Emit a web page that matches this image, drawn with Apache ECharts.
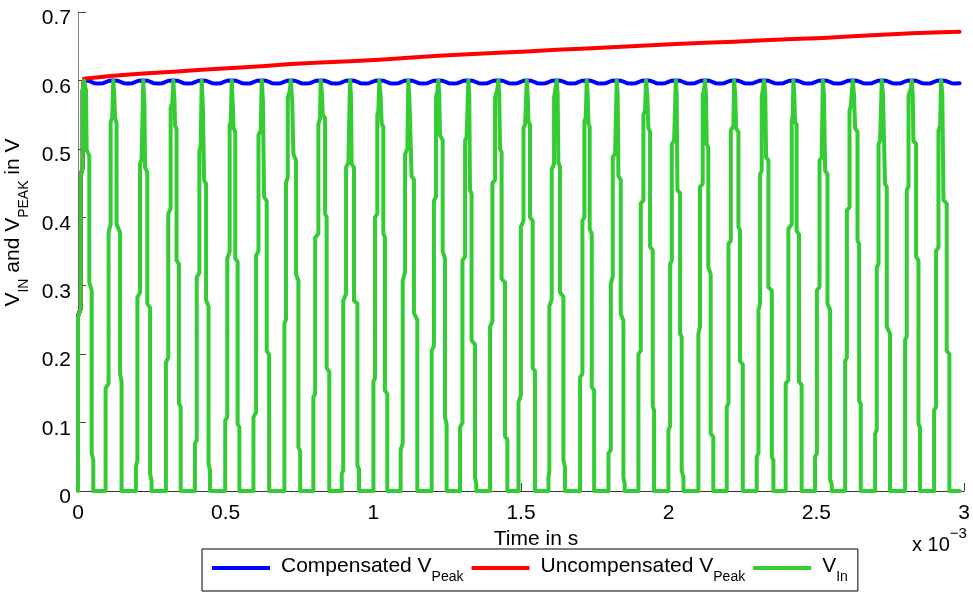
<!DOCTYPE html>
<html>
<head>
<meta charset="utf-8">
<script src="https://cdn.jsdelivr.net/npm/echarts@6/dist/echarts.min.js"></script>
<style>
  html, body { margin: 0; padding: 0; background: #ffffff; }
  #chart { width: 973px; height: 595px; }
</style>
</head>
<body>
<div id="chart"></div>
<script>
// Time is kept in milliseconds; the axis shows the "x 10^-3" multiplier.
const timeTickLabels = ['0', '0.5', '1', '1.5', '2', '2.5', '3'];
const voltTickLabels = ['0', '0.1', '0.2', '0.3', '0.4', '0.5', '0.6', '0.7'];

const seriesNames = ['Compensated', 'Uncompensated', 'Vin'];
const legendLabels = {
  Compensated: '{m|Compensated V}{s|Peak}',
  Uncompensated: '{m|Uncompensated V}{s|Peak}',
  Vin: '{m|V}{s|In}'
};

// Instants of the input pulse peaks (ms)
const vinPeakMs = [
  0.0203, 0.1195, 0.2211, 0.3227, 0.4189, 0.5205, 0.6221, 0.7203, 0.8219, 0.9211,
  1.0203, 1.1185, 1.2201, 1.3217, 1.4233, 1.5195, 1.6210, 1.7226, 1.8242, 1.9235,
  2.0241, 2.1232, 2.2215, 2.3231, 2.4223, 2.5218, 2.6234, 2.7216, 2.8232, 2.9225
];

// Edges of every V_In pulse: [offset from its peak in µs, volts]
const vinPulseEdges = [
  [[-20.3,0],[-20.3,0.254],[-11.2,0.266],[-11.2,0.461],[-4.4,0.473],[-4.4,0.585],[0,0.6],[6.8,0.585],[9,0.498],[18,0.490],[18,0.305],[26,0.293],[26,0.055],[31.5,0.045],[31.5,0]],
  [[-26,0],[-26,0.150],[-16,0.157],[-16,0.378],[-9,0.390],[-9,0.539],[-3.4,0.546],[0,0.6],[3,0.58],[5.8,0.546],[11,0.538],[11,0.390],[23,0.378],[23,0.171],[28,0.160],[28,0]],
  [[-25,0],[-25,0.035],[-20,0.045],[-20,0.283],[-11,0.290],[-11,0.478],[-5.8,0.485],[0,0.6],[4,0.56],[5.8,0.473],[13.5,0.466],[13.5,0.274],[23,0.268],[23,0.025],[28,0.015],[28,0]],
  [[-25,0],[-25,0.188],[-17,0.195],[-17,0.405],[-9,0.413],[-9,0.56],[-3.4,0.567],[0,0.6],[4,0.57],[5.8,0.534],[11,0.529],[11,0.337],[19,0.332],[19,0.128],[25,0.123],[25,0]],
  [[-23,0],[-23,0.069],[-17,0.074],[-17,0.312],[-8,0.319],[-8,0.497],[-3.4,0.505],[0,0.6],[4,0.56],[8,0.454],[14.7,0.449],[14.7,0.279],[23,0.270],[23,0.04],[28,0.03],[28,0]],
  [[-22,0],[-22,0.103],[-15,0.108],[-15,0.34],[-7,0.35],[-7,0.535],[-3,0.54],[0,0.6],[4,0.56],[6,0.53],[12,0.525],[12,0.34],[20,0.335],[20,0.098],[26,0.093],[26,0]],
  [[-28,0],[-28,0.108],[-19,0.115],[-19,0.344],[-11,0.351],[-11,0.52],[-3.4,0.527],[0,0.6],[4,0.57],[8,0.43],[17,0.424],[17,0.205],[25,0.199],[25,0]],
  [[-21.5,0],[-21.5,0.244],[-16,0.251],[-16,0.451],[-10,0.458],[-10,0.575],[-3,0.585],[0,0.6],[5,0.57],[9,0.493],[18,0.483],[18,0.317],[26,0.307],[26,0.064],[32,0.058],[32,0]],
  [[-25,0],[-25,0.137],[-19,0.142],[-19,0.370],[-8,0.376],[-8,0.536],[-2.3,0.545],[0,0.6],[4,0.58],[6.8,0.55],[14.7,0.545],[14.7,0.405],[20,0.40],[20,0.18],[29,0.174],[29,0]],
  [[-28,0],[-28,0.025],[-23,0.03],[-23,0.278],[-13.5,0.288],[-13.5,0.473],[-5.6,0.48],[0,0.6],[3,0.58],[5.6,0.478],[13.5,0.473],[13.5,0.278],[25,0.274],[25,0.037],[30.5,0.032],[30.5,0]],
  [[-20,0],[-20,0.16],[-14.7,0.165],[-14.7,0.40],[-6.8,0.405],[-6.8,0.55],[-3.4,0.555],[0,0.6],[4,0.58],[8,0.537],[13.5,0.532],[13.5,0.376],[19,0.371],[19,0.147],[27,0.142],[27,0]],
  [[-26,0],[-26,0.06],[-19,0.07],[-19,0.307],[-11,0.32],[-11,0.492],[-3.4,0.5],[0,0.6],[4,0.57],[11,0.46],[19,0.455],[19,0.26],[30.5,0.25],[30.5,0]],
  [[-22.6,0],[-22.6,0.205],[-15,0.212],[-15,0.424],[-8,0.43],[-8,0.575],[-3,0.585],[0,0.6],[3,0.58],[5.6,0.52],[14.7,0.513],[14.7,0.35],[22.6,0.34],[22.6,0.108],[28,0.098],[28,0]],
  [[-28,0],[-28,0.093],[-20,0.1],[-20,0.337],[-11,0.343],[-11,0.512],[-5.6,0.518],[0,0.6],[3,0.58],[5.6,0.44],[11,0.434],[11,0.22],[22.6,0.214],[22.6,0.02],[27,0.01],[27,0]],
  [[-28,0],[-28,0.24],[-20,0.248],[-20,0.45],[-11,0.455],[-11,0.575],[-3,0.588],[0,0.6],[3,0.58],[5.6,0.5],[11,0.495],[11,0.31],[22.6,0.305],[22.6,0.08],[30.5,0.075],[30.5,0]],
  [[-28,0],[-28,0.13],[-20,0.14],[-20,0.386],[-11,0.395],[-11,0.53],[-5.6,0.536],[0,0.6],[3,0.58],[5.6,0.54],[11,0.535],[11,0.40],[20,0.395],[20,0.18],[28,0.175],[28,0]],
  [[-28,0],[-28,0.02],[-25,0.03],[-25,0.27],[-17,0.28],[-17,0.47],[-9,0.478],[-9,0.575],[0,0.6],[3,0.58],[5.6,0.48],[11,0.474],[11,0.29],[22.6,0.284],[22.6,0.045],[28,0.035],[28,0]],
  [[-22.6,0],[-22.6,0.166],[-14.7,0.171],[-14.7,0.395],[-8,0.40],[-8,0.54],[-3.4,0.546],[0,0.6],[3,0.58],[6,0.537],[10,0.532],[10,0.383],[17,0.376],[17,0.152],[25,0.147],[25,0]],
  [[-28,0],[-28,0.055],[-20,0.06],[-20,0.303],[-13.5,0.313],[-13.5,0.488],[-5.6,0.493],[0,0.6],[3,0.58],[5.6,0.46],[13.5,0.455],[13.5,0.259],[22.6,0.249],[22.6,0.02],[27,0.01],[27,0]],
  [[-26,0],[-26,0.2],[-18,0.205],[-18,0.42],[-9,0.425],[-9,0.55],[-3.4,0.556],[0,0.6],[4,0.58],[8,0.53],[13.5,0.525],[13.5,0.357],[22.6,0.352],[22.6,0.123],[27,0.118],[27,0]],
  [[-25,0],[-25,0.089],[-19,0.095],[-19,0.332],[-13.5,0.337],[-13.5,0.507],[-5.6,0.512],[0,0.6],[3,0.58],[5.6,0.44],[14.7,0.435],[14.7,0.23],[20,0.225],[20,0.03],[26,0.02],[26,0]],
  [[-22.6,0],[-22.6,0.23],[-17,0.24],[-17,0.444],[-8,0.449],[-8,0.578],[-3,0.588],[0,0.6],[3,0.58],[5.6,0.507],[11,0.502],[11,0.327],[19,0.317],[19,0.084],[28,0.079],[28,0]],
  [[-25,0],[-25,0.123],[-19,0.128],[-19,0.361],[-11,0.366],[-11,0.527],[-2.3,0.534],[0,0.6],[4,0.58],[6.8,0.53],[14.7,0.525],[14.7,0.386],[20,0.381],[20,0.19],[29.5,0.185],[29.5,0]],
  [[-25,0],[-25,0.05],[-19,0.055],[-19,0.264],[-13.5,0.274],[-13.5,0.463],[-8,0.468],[-8,0.575],[0,0.6],[4,0.58],[6.8,0.488],[14.7,0.483],[14.7,0.298],[26,0.293],[26,0.05],[31.5,0.045],[31.5,0]],
  [[-26,0],[-26,0.157],[-17,0.162],[-17,0.383],[-5.6,0.39],[-5.6,0.54],[-2,0.55],[0,0.6],[3,0.58],[5.6,0.54],[11,0.535],[11,0.38],[19,0.375],[19,0.16],[28,0.155],[28,0]],
  [[-26,0],[-26,0.05],[-20,0.055],[-20,0.293],[-11,0.298],[-11,0.483],[-3.4,0.488],[0,0.6],[4,0.58],[8,0.468],[16,0.463],[16,0.274],[25,0.264],[25,0.016],[30.5,0.01],[30.5,0]],
  [[-26,0],[-26,0.19],[-20,0.195],[-20,0.41],[-11,0.415],[-11,0.556],[-6.8,0.562],[0,0.6],[4,0.58],[8,0.53],[16,0.525],[16,0.366],[21.5,0.361],[21.5,0.132],[27,0.127],[27,0]],
  [[-22.6,0],[-22.6,0.084],[-17,0.089],[-17,0.327],[-11,0.332],[-11,0.507],[-5.6,0.512],[0,0.6],[4,0.58],[11,0.449],[17,0.444],[17,0.24],[28,0.23],[28,0]],
  [[-22.6,0],[-22.6,0.221],[-17,0.226],[-17,0.44],[-11,0.445],[-11,0.578],[-3,0.588],[0,0.6],[3,0.58],[5.6,0.512],[14.7,0.507],[14.7,0.342],[22.6,0.337],[22.6,0.098],[28,0.093],[28,0]],
  [[-23.7,0],[-23.7,0.118],[-17,0.123],[-17,0.351],[-9,0.356],[-9,0.527],[-3.4,0.533],[0,0.6],[4,0.58],[8,0.425],[19,0.42],[19,0.205],[28,0.2],[28,0],[63,0]]
];

// Both detectors start at 0.256 V and follow the first input rise (ms, V)
const detectorStart = [[0, 0.256], [0.009, 0.266], [0.009, 0.461], [0.0159, 0.473], [0.0159, 0.585]];

// Compensated peak detector: ripple over one period [µs after a peak, V], end point
const compRipple = [[0, 0.6], [15, 0.5995], [35, 0.596], [50, 0.5955], [65, 0.596], [85, 0.5995]];
const compEnd = [2.985, 0.5958];

// Uncompensated peak detector: level reached at each input peak (V), end point
const uncompPeakV = [
  0.6026, 0.6068, 0.6100, 0.6127, 0.6155, 0.6180, 0.6206, 0.6240, 0.6262, 0.6281,
  0.6302, 0.6332, 0.6361, 0.6383, 0.6404, 0.6423, 0.6449, 0.6465, 0.6487, 0.6511,
  0.6534, 0.6549, 0.6565, 0.6588, 0.6604, 0.6621, 0.6647, 0.6669, 0.6688, 0.6705
];
const uncompEnd = [2.985, 0.6712];

// ---- series data assembled from the tables above ----
const vinData = [];
vinPeakMs.forEach((tp, k) => {
  vinPulseEdges[k].forEach(([dtUs, v]) => vinData.push([+(tp + dtUs / 1000).toFixed(5), v]));
});

const compData = detectorStart.slice();
vinPeakMs.forEach(tp => {
  compRipple.forEach(([dtUs, v]) => {
    const t = +(tp + dtUs / 1000).toFixed(5);
    if (t < compEnd[0]) compData.push([t, v]);
  });
});
compData.push(compEnd);

const uncompData = detectorStart.slice();
vinPeakMs.forEach((tp, k) => uncompData.push([tp, uncompPeakV[k]]));
uncompData.push(uncompEnd);

const FONT = "'Liberation Sans', Arial, Helvetica, sans-serif";
const subRich = {
  m: { fontFamily: FONT, fontSize: 21, color: '#000', lineHeight: 24, verticalAlign: 'top' },
  s: { fontFamily: FONT, fontSize: 14, color: '#000', lineHeight: 14, padding: [14, 0, 0, 0], verticalAlign: 'top' }
};

const chart = echarts.init(document.getElementById('chart'), null, { renderer: 'canvas' });

const lineSeries = (name, color, data) => ({
  name, type: 'line', data,
  showSymbol: false, symbol: 'none', silent: true, animation: false,
  lineStyle: { color, width: 4, join: 'round', cap: 'round' },
  itemStyle: { color },
  emphasis: { disabled: true }
});

chart.setOption({
  animation: false,
  backgroundColor: '#ffffff',
  grid: { left: 78, right: 9, top: 12, bottom: 104, containLabel: false, outerBoundsMode: 'none' },
  xAxis: {
    type: 'value', min: 0, max: 3, interval: 0.5,
    axisLine: { show: true, onZero: false, lineStyle: { color: '#333', width: 1 } },
    axisTick: { show: true, inside: true, length: 8, lineStyle: { color: '#444' } },
    splitLine: { show: false },
    axisLabel: {
      color: '#000', fontFamily: FONT, fontSize: 21, margin: 12,
      formatter: v => timeTickLabels[Math.round(v / 0.5)]
    },
    name: 'Time in s', nameLocation: 'middle', nameGap: 36,
    nameTextStyle: { color: '#000', fontFamily: FONT, fontSize: 21, padding: [0, 0, 0, 30] }
  },
  yAxis: {
    type: 'value', min: 0, max: 0.7, interval: 0.1,
    axisLine: { show: true, lineStyle: { color: '#808080', width: 1 } },
    axisTick: { show: true, inside: true, length: 8, lineStyle: { color: '#444' } },
    splitLine: { show: false },
    axisLabel: {
      color: '#000', fontFamily: FONT, fontSize: 21, margin: 7,
      verticalAlign: 'top', lineHeight: 13,
      formatter: v => voltTickLabels[Math.round(v / 0.1)]
    },
    name: '{m|V}{s|IN}{m| and V}{s|PEAK}{m| in V}',
    nameLocation: 'middle', nameRotate: 90, nameGap: 40,
    nameTextStyle: { rich: subRich, padding: [0, 0, 0, 58] }
  },
  legend: {
    data: seriesNames,
    left: 202, top: 549,
    orient: 'horizontal',
    padding: [7, 10, 7, 10],
    itemWidth: 58, itemHeight: 4, itemGap: 8,
    icon: 'rect',
    selectedMode: false,
    borderColor: '#000', borderWidth: 1, borderRadius: 0,
    backgroundColor: '#fff',
    formatter: name => legendLabels[name],
    textStyle: { fontFamily: FONT, fontSize: 21, color: '#000', padding: [0, 0, 0, 6], rich: subRich }
  },
  graphic: [{
    type: 'text', left: 912, top: 526, silent: true,
    style: {
      text: '{b|x 10}{e|\u22123}',
      rich: {
        b: { fontFamily: FONT, fontSize: 20, color: '#000', lineHeight: 20, padding: [9, 0, 0, 0], verticalAlign: 'top' },
        e: { fontFamily: FONT, fontSize: 15, color: '#000', lineHeight: 15, verticalAlign: 'top' }
      }
    }
  }],
  series: [
    lineSeries(seriesNames[0], '#0000ff', compData),
    lineSeries(seriesNames[1], '#ff0000', uncompData),
    lineSeries(seriesNames[2], '#33cc33', vinData)
  ]
});
</script>
</body>
</html>
